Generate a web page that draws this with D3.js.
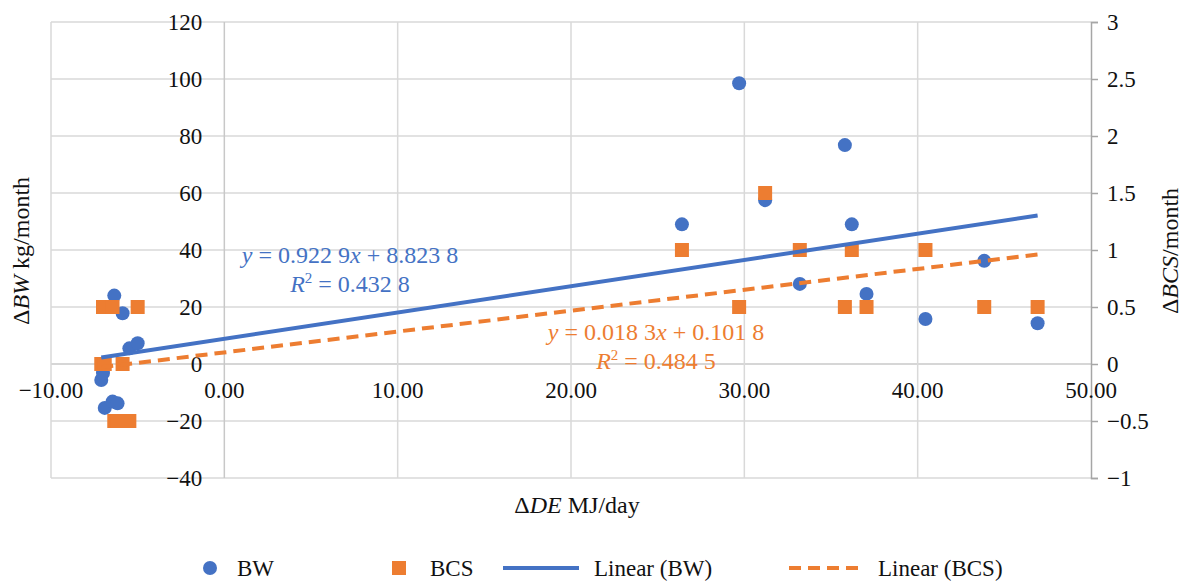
<!DOCTYPE html>
<html>
<head>
<meta charset="utf-8">
<script src="https://cdn.jsdelivr.net/npm/d3@7"></script>
<style>
  html, body { margin: 0; padding: 0; background: #fff; }
  svg text { font-family: "Liberation Serif", "Times New Roman", serif; }
</style>
</head>
<body>
<svg id="chart" width="1190" height="581"></svg>
<script>
// ---------- data ----------
const deX       = [-7.1, -7.0, -6.9, -6.45, -6.35, -6.16, -5.87, -5.48, -5.0,
                   26.4, 29.7, 31.2, 33.2, 35.8, 36.2, 37.05, 40.45, 43.84, 46.92];
const bwValues  = [-5.6, -3.2, -15.4, -13.2, 24.0, -13.8, 17.8, 5.5, 7.3,
                   49.0, 98.5, 57.5, 28.1, 76.8, 49.0, 24.6, 15.8, 36.2, 14.3];
const bcsValues = [0, 0.5, 0, 0.5, -0.5, -0.5, 0, -0.5, 0.5,
                   1.0, 0.5, 1.5, 1.0, 0.5, 1.0, 0.5, 1.0, 0.5, 0.5];
const xTicks    = [-10, 0, 10, 20, 30, 40, 50];
const yLeftTicks  = [-40, -20, 0, 20, 40, 60, 80, 100, 120];
const yRightTicks = [-1, -0.5, 0, 0.5, 1, 1.5, 2, 2.5, 3];
const bwTrend  = { slope: 0.9229, intercept: 8.8238, r2: "0.432 8", label: "0.922 9", labelB: "8.823 8" };
const bcsTrend = { slope: 0.0183, intercept: 0.1018, r2: "0.484 5", label: "0.018 3", labelB: "0.101 8" };
const legendLabels = ["BW", "BCS", "Linear (BW)", "Linear (BCS)"];

// ---------- setup ----------
const blue = "#4472C4", orange = "#ED7D31";
const FONT = "Liberation Serif, Times New Roman, serif";
const svg = d3.select("#chart");
const x  = d3.scaleLinear().domain([-10, 50]).range([51, 1091]);
const yL = d3.scaleLinear().domain([-40, 120]).range([478, 22]);
const yR = d3.scaleLinear().domain([-1, 3]).range([478, 22]);
const minus = s => String(s).replace("-", "\u2212");

// gridlines
const grid = svg.append("g");
grid.selectAll("line.h").data(yLeftTicks).join("line")
  .attr("x1", x(-10)).attr("x2", x(50))
  .attr("y1", d => yL(d)).attr("y2", d => yL(d))
  .attr("stroke", d => d === 0 ? "#c8c8c8" : "#d9d9d9").attr("stroke-width", 1.5);
grid.selectAll("line.v").data(xTicks.filter(d => d !== 50)).join("line")
  .attr("x1", d => x(d)).attr("x2", d => x(d))
  .attr("y1", yL(120)).attr("y2", yL(-40))
  .attr("stroke", d => d === 0 ? "#c8c8c8" : "#d9d9d9").attr("stroke-width", 1.5);

// right axis
const rightAxis = d3.axisRight(yR).tickValues(yRightTicks).tickSize(7).tickFormat(d => minus(d));
const ra = svg.append("g").attr("transform", `translate(${x(50)},0)`).call(rightAxis);
ra.select(".domain").attr("stroke", "#a6a6a6").attr("stroke-width", 1.5);
ra.selectAll(".tick line").attr("stroke", "#a6a6a6").attr("stroke-width", 1.5);
ra.selectAll(".tick text").attr("x", 16).attr("font-size", 23)
  .attr("font-family", FONT).attr("fill", "#111");

// left tick labels (beside the x=0 axis)
svg.append("g").selectAll("text").data(yLeftTicks).join("text")
  .attr("x", x(0) - 22).attr("y", d => yL(d)).attr("dy", "0.35em")
  .attr("text-anchor", "end").attr("font-size", 23).attr("fill", "#111")
  .attr("font-family", FONT)
  .text(d => minus(d));

// x tick labels (below the y=0 axis)
svg.append("g").selectAll("text").data(xTicks).join("text")
  .attr("x", d => x(d)).attr("y", yL(0) + 34)
  .attr("text-anchor", "middle").attr("font-size", 23).attr("fill", "#111")
  .attr("font-family", FONT)
  .text(d => minus(d3.format(".2f")(d)));

// trend lines
const xmin = d3.min(deX), xmax = d3.max(deX);
const lineL = d3.line().x(d => x(d)).y(d => yL(bwTrend.slope * d + bwTrend.intercept));
const lineR = d3.line().x(d => x(d)).y(d => yR(bcsTrend.slope * d + bcsTrend.intercept));

// points
const pts = deX.map((v, i) => ({ x: v, bw: bwValues[i], bcs: bcsValues[i] }));
svg.append("g").selectAll("circle").data(pts).join("circle")
  .attr("cx", d => x(d.x)).attr("cy", d => yL(d.bw)).attr("r", 7).attr("fill", blue);
svg.append("g").selectAll("rect").data(pts).join("rect")
  .attr("x", d => x(d.x) - 7).attr("y", d => yR(d.bcs) - 7)
  .attr("width", 14).attr("height", 14).attr("fill", orange);

svg.append("path").datum([xmin, xmax]).attr("d", lineL)
  .attr("stroke", blue).attr("stroke-width", 4).attr("fill", "none");
svg.append("path").datum([xmin, xmax]).attr("d", lineR)
  .attr("stroke", orange).attr("stroke-width", 4).attr("fill", "none")
  .attr("stroke-dasharray", "12,7");

// equations
function eq(g, cx, cy, tr, color) {
  const t1 = g.append("text").attr("x", cx).attr("y", cy).attr("text-anchor", "middle")
    .attr("font-size", 24).attr("fill", color).attr("font-family", FONT);
  t1.append("tspan").attr("font-style", "italic").text("y");
  t1.append("tspan").text(` = ${tr.label}`);
  t1.append("tspan").attr("font-style", "italic").text("x");
  t1.append("tspan").text(` + ${tr.labelB}`);
  const t2 = g.append("text").attr("x", cx).attr("y", cy + 29).attr("text-anchor", "middle")
    .attr("font-size", 24).attr("fill", color).attr("font-family", FONT);
  t2.append("tspan").attr("font-style", "italic").text("R");
  t2.append("tspan").attr("font-size", 15).attr("dy", -9).text("2");
  t2.append("tspan").attr("dy", 9).text(` = ${tr.r2}`);
}
const eqG = svg.append("g");
eq(eqG, 350, 263, bwTrend, blue);
eq(eqG, 656, 340, bcsTrend, orange);

// axis titles
function title(g, parts, attrs) {
  const t = g.append("text").attr("font-size", 24).attr("fill", "#111")
    .attr("text-anchor", "middle").attr("font-family", FONT);
  Object.entries(attrs).forEach(([k, v]) => t.attr(k, v));
  parts.forEach(p => t.append("tspan").attr("font-style", p[1] ? "italic" : "normal").text(p[0]));
}
const tg = svg.append("g");
title(tg, [["\u0394", 0], ["BW", 1], [" kg/month", 0]], { transform: "translate(29,251) rotate(-90)" });
title(tg, [["\u0394", 0], ["DE", 1], [" MJ/day", 0]], { x: 577, y: 513 });
title(tg, [["\u0394", 0], ["BCS", 1], ["/month", 0]], { transform: "translate(1178,251) rotate(-90)" });

// legend
const lg = svg.append("g");
const ly = 568;
lg.append("circle").attr("cx", 210).attr("cy", ly).attr("r", 7).attr("fill", blue);
lg.append("rect").attr("x", 399 - 7).attr("y", ly - 7).attr("width", 14).attr("height", 14).attr("fill", orange);
lg.append("line").attr("x1", 503).attr("x2", 579).attr("y1", ly).attr("y2", ly)
  .attr("stroke", blue).attr("stroke-width", 4);
lg.append("line").attr("x1", 789).attr("x2", 864).attr("y1", ly).attr("y2", ly)
  .attr("stroke", orange).attr("stroke-width", 4).attr("stroke-dasharray", "12,7");
const lx = [237, 430, 594, 878];
lg.selectAll("text").data(legendLabels).join("text")
  .attr("x", (d, i) => lx[i]).attr("y", ly).attr("dy", "0.35em")
  .attr("font-size", 23).attr("fill", "#111").attr("font-family", FONT).text(d => d);
</script>
</body>
</html>
